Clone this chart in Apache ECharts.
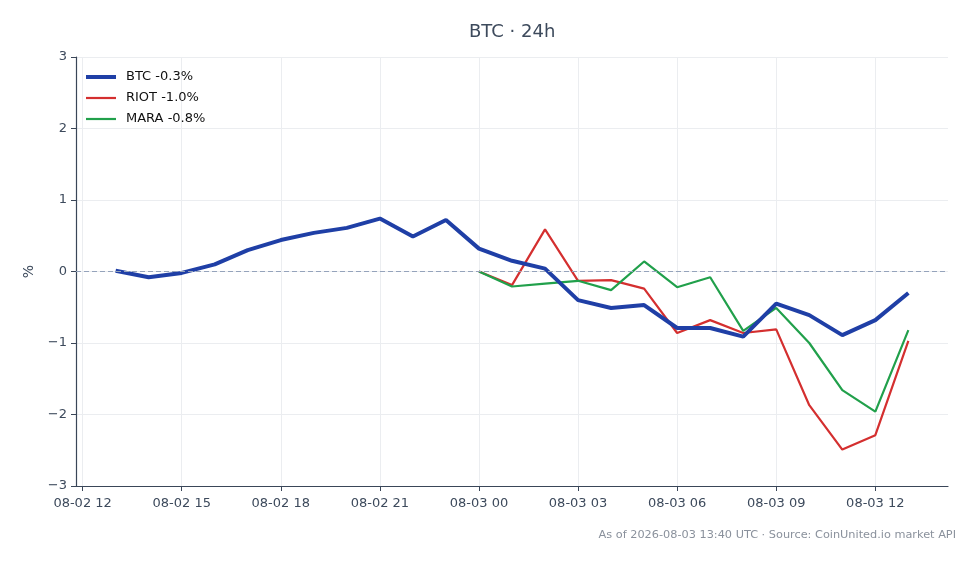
<!DOCTYPE html>
<html><head><meta charset="utf-8">
<script src="https://cdn.jsdelivr.net/npm/echarts@6/dist/echarts.min.js"></script>
<style>html,body{margin:0;padding:0;background:#fff}#c{width:980px;height:564px}</style>
</head><body><div id="c"></div>
<script>
const times = ['2026-08-02 13:00','2026-08-02 14:00','2026-08-02 15:00','2026-08-02 16:00','2026-08-02 17:00','2026-08-02 18:00','2026-08-02 19:00','2026-08-02 20:00','2026-08-02 21:00','2026-08-02 22:00','2026-08-02 23:00','2026-08-03 00:00','2026-08-03 01:00','2026-08-03 02:00','2026-08-03 03:00','2026-08-03 04:00','2026-08-03 05:00','2026-08-03 06:00','2026-08-03 07:00','2026-08-03 08:00','2026-08-03 09:00','2026-08-03 10:00','2026-08-03 11:00','2026-08-03 12:00','2026-08-03 13:00'];
const btc = [0.01,-0.08,-0.02,0.10,0.30,0.44,0.54,0.61,0.74,0.49,0.72,0.32,0.15,0.04,-0.40,-0.51,-0.47,-0.79,-0.79,-0.91,-0.45,-0.61,-0.89,-0.68,-0.30];
const peerTimes = times.slice(11);
const riot = [0.0,-0.19,0.59,-0.13,-0.12,-0.24,-0.86,-0.68,-0.86,-0.81,-1.87,-2.49,-2.29,-0.97];
const mara = [0.0,-0.21,-0.17,-0.13,-0.26,0.14,-0.22,-0.08,-0.83,-0.51,-1.00,-1.66,-1.96,-0.82];
const tickTimes = ['2026-08-02 12:00','2026-08-02 15:00','2026-08-02 18:00','2026-08-02 21:00','2026-08-03 00:00','2026-08-03 03:00','2026-08-03 06:00','2026-08-03 09:00','2026-08-03 12:00'];
const seriesNames = ['BTC -0.3%','RIOT -1.0%','MARA -0.8%'];
const titleText = 'BTC · 24h';
const footerText = 'As of 2026-08-03 13:40 UTC · Source: CoinUnited.io market API';

// x is expressed as hours since the origin time below
const ORIGIN = Date.UTC(2026,7,2,0,0);
function toH(s){const [d,t]=s.split(' ');const [y,m,dd]=d.split('-').map(Number);const [h,mi]=t.split(':').map(Number);return (Date.UTC(y,m-1,dd,h,mi)-ORIGIN)/3600000;}
function pad(n){return (n<10?'0':'')+n;}
function fmtH(v){const d=new Date(ORIGIN+Math.round(v*3600000));return pad(d.getUTCMonth()+1)+'-'+pad(d.getUTCDate())+' '+pad(d.getUTCHours());}
const hBtc = times.map(toH);
const hPeer = peerTimes.map(toH);
const hTicks = tickTimes.map(toH);
const span = hBtc[hBtc.length-1]-hBtc[0];
const xMin = hBtc[0]-0.05*span, xMax = hBtc[hBtc.length-1]+0.05*span;
const FONT='DejaVu Sans', TXT='#3d4a5c', AX='#3a4658';
const C_BTC='#1f3fa6', C_RIOT='#d42f2f', C_MARA='#21a04b';
const iconThick='path://M0,0M30,14M0,5H30V9H0Z';
const iconThin='path://M0,0M30,14M0,5.9H30V8.1H0Z';

const chart = echarts.init(document.getElementById('c'), null, {renderer:'canvas'});
chart.setOption({
  animation:false,
  textStyle:{fontFamily:FONT},
  title:{text:titleText,left:469,top:23,padding:0,textStyle:{fontFamily:FONT,fontSize:18,fontWeight:'normal',color:'#3d4a5c'}},
  graphic:[{type:'text',right:24,top:530,style:{text:footerText,fontFamily:FONT,fontSize:11.3,fill:'#8a919c'}}],
  legend:{orient:'vertical',left:86,top:70,padding:0,itemWidth:30,itemHeight:14,itemGap:7,
    textStyle:{fontFamily:FONT,fontSize:13,color:'#111',padding:[0,0,0,5]},
    data:[{name:seriesNames[0],icon:iconThick},{name:seriesNames[1],icon:iconThin},{name:seriesNames[2],icon:iconThin}]},
  grid:{left:76,right:32,top:57,bottom:78,containLabel:false},
  xAxis:{type:'value',min:xMin,max:xMax,
    axisLine:{onZero:false,lineStyle:{color:AX,width:1.2}},
    axisTick:{show:true,length:5,lineStyle:{color:AX},customValues:hTicks},
    axisLabel:{customValues:hTicks,color:TXT,fontSize:13,fontFamily:FONT,margin:11,formatter:fmtH},
    splitLine:{show:true,lineStyle:{color:'#ebedf0',width:1}}},
  yAxis:{type:'value',min:-3,max:3,interval:1,name:'%',nameLocation:'middle',nameGap:40,nameRotate:90,
    nameTextStyle:{color:TXT,fontSize:14,fontFamily:FONT},
    axisLine:{show:true,onZero:false,lineStyle:{color:AX,width:1.2}},
    axisTick:{show:true,length:5,lineStyle:{color:AX}},
    axisLabel:{color:TXT,fontSize:13,fontFamily:FONT,margin:9,padding:[3,0,0,0],formatter:v=>String(v).replace('-','\u2212')},
    splitLine:{show:true,lineStyle:{color:'#ebedf0',width:1}}},
  series:[
    {name:seriesNames[0],type:'line',symbol:'none',z:3,data:hBtc.map((t,i)=>[t,btc[i]]),
      lineStyle:{color:C_BTC,width:4},itemStyle:{color:C_BTC},
      markLine:{silent:true,symbol:'none',label:{show:false},lineStyle:{color:'#95a3bb',type:[5,3],width:1},data:[{yAxis:0}]}},
    {name:seriesNames[1],type:'line',symbol:'none',z:2,data:hPeer.map((t,i)=>[t,riot[i]]),
      lineStyle:{color:C_RIOT,width:2.2},itemStyle:{color:C_RIOT}},
    {name:seriesNames[2],type:'line',symbol:'none',z:2,data:hPeer.map((t,i)=>[t,mara[i]]),
      lineStyle:{color:C_MARA,width:2.2},itemStyle:{color:C_MARA}}
  ]
});
</script></body></html>
